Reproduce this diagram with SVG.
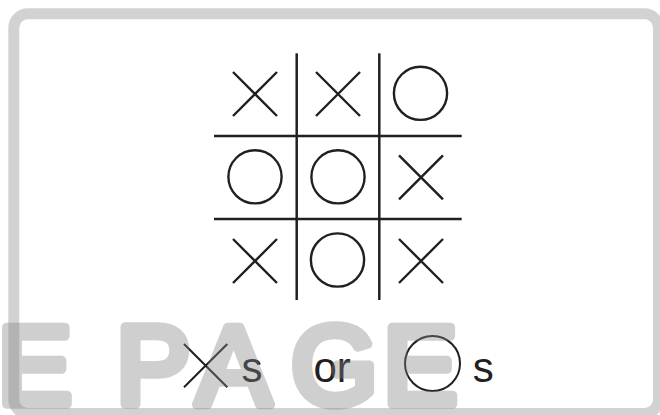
<svg xmlns="http://www.w3.org/2000/svg" width="660" height="415" viewBox="0 0 660 415">
<style>
.ln{stroke:#231f20;stroke-width:2.5;fill:none;stroke-linecap:butt}
.mk{stroke:#231f20;stroke-width:2.4;fill:none}
.lg{stroke:#231f20;stroke-width:2;fill:none}
.t{font-family:"Liberation Sans",Arial,sans-serif;font-size:42px;fill:#231f20}
.wm{font-family:"Liberation Sans",Arial,sans-serif;font-size:111px;fill:#838385;stroke:#838385;stroke-width:9.6;stroke-linejoin:round;opacity:0.38}
</style>
<defs>
<path id="x" d="M-22,-22L22,22M-22,22L22,-22"/>
</defs>
<rect id="frame" x="13.8" y="13.8" width="644.7" height="399.7" rx="14" fill="#fff" stroke="#d1d2d4" stroke-width="11"/>
<g id="grid" class="ln">
<line x1="296.7" y1="53.3" x2="296.7" y2="300"/>
<line x1="379.3" y1="53.3" x2="379.3" y2="300"/>
<line x1="214" y1="136" x2="461.7" y2="136"/>
<line x1="214" y1="219" x2="461.7" y2="219"/>
</g>
<g id="c11" class="mk"><use href="#x" x="255" y="94"/></g>
<g id="c12" class="mk"><use href="#x" x="338" y="94"/></g>
<g id="c13" class="mk"><circle cx="420.5" cy="93.3" r="26.6"/></g>
<g id="c21" class="mk"><circle cx="255" cy="176.8" r="26.6"/></g>
<g id="c22" class="mk"><circle cx="338" cy="176.8" r="26.6"/></g>
<g id="c23" class="mk"><use href="#x" x="421" y="177.3"/></g>
<g id="c31" class="mk"><use href="#x" x="255" y="261"/></g>
<g id="c32" class="mk"><circle cx="337.5" cy="260" r="26.6"/></g>
<g id="c33" class="mk"><use href="#x" x="421" y="261"/></g>
<g id="legend">
<g class="lg"><path d="M184,344L227.3,387.3M184,387.3L227.3,344"/></g>
<text class="t" x="241.4" y="382">s</text>
<text class="t" x="313.5" y="382">or</text>
<g class="lg"><circle cx="432.5" cy="363.5" r="27.5"/></g>
<text class="t" x="472.7" y="382">s</text>
</g>
<text class="wm" x="-2.3 116.3 116.3 196.5 291.2 383.3" y="403.5">E PAGE</text>
</svg>
